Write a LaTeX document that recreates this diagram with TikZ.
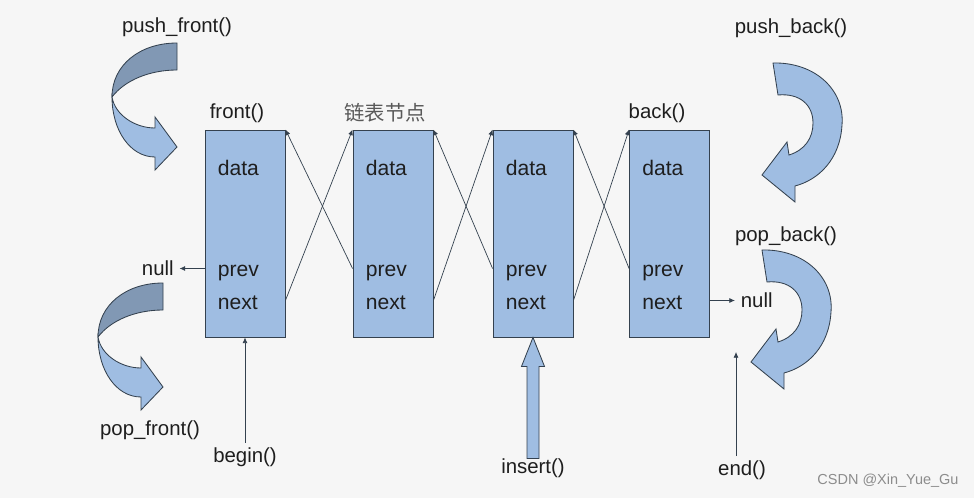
\documentclass[tikz,border=0pt]{standalone}
\usepackage{fontspec}
\setmainfont{Liberation Sans}
\newfontfamily\cjk{Noto Sans CJK SC}
\usepackage{tikz}
\usetikzlibrary{arrows.meta, positioning, calc}
\definecolor{bgc}{HTML}{F6F6F6}
\definecolor{cellblue}{HTML}{9FBDE2}
\definecolor{cellshade}{HTML}{8198B4}
\definecolor{edgec}{HTML}{34414F}
\definecolor{txtc}{HTML}{1E1E1E}

\begin{document}
\begin{tikzpicture}[
    x=0.025cm, y=-0.025cm,
    cell/.style={draw=edgec, fill=cellblue, line width=0.6pt,
                 minimum width=2cm, minimum height=5.175cm, inner sep=0pt},
    field/.style={anchor=base west, inner sep=0pt, text=txtc,
                  font=\fontsize{15}{18}\selectfont},
    lbl/.style={inner sep=3pt, text=txtc, font=\fontsize{14.5}{17}\selectfont},
    arr/.style={-{Latex[length=4pt, width=3.5pt]}, line width=0.5pt, edgec},
    ribbon/.style={draw=edgec, line width=0.6pt, fill=#1},
    ribbon/.default=cellblue,
    frontarrow/.pic={
        \draw[ribbon=cellshade] (0,0) .. controls (-37,0) and (-65,22) .. (-65,54)
            .. controls (-52,37) and (-27,27) .. (0,27) -- cycle;
        \draw[ribbon] (-65,54) .. controls (-65,87) and (-47,114) .. (-22,114)
            -- (-22,127) -- (0,104) -- (-22,74) -- (-22,85)
            .. controls (-42,85) and (-62,72) .. (-65,54) -- cycle;
    },
    backarrow/.pic={
        \draw[ribbon] (0,0) .. controls (42,-1) and (72,27) .. (69,62)
            .. controls (67,97) and (45,117) .. (22,123)
            -- (22,139) -- (-11,112) -- (14,79) -- (16,92)
            .. controls (32,87) and (40,75) .. (40,60)
            .. controls (40,42) and (27,30) .. (5,32) -- cycle;
    },
]
    \fill[bgc] (0,0) rectangle (974,498);
    \useasboundingbox (0,0) rectangle (974,498);

    % list cells
    \foreach \i/\x in {1/245, 2/393, 3/533, 4/669.5} {
        \node[cell] (n\i) at (\x, 233.5) {};
        \node[field] (d\i) at ($(n\i.west)+(13,-57.5)$) {data};
        \node[field] (p\i) at ($(n\i.west)+(13,43.5)$) {prev};
        \node[field] (x\i) at ($(n\i.west)+(13,76.5)$) {next};
        \coordinate (pl\i) at ($(n\i.west)+(0,35)$);
        \coordinate (nr\i) at ($(n\i.east)+(0,67)$);
    }
    \foreach \i/\j in {1/2, 2/3, 3/4} {
        \draw[arr] (nr\i) -- (n\j.north west);
        \draw[arr] (pl\j) -- (n\i.north east);
    }

    % labels above the cells
    \node[lbl] (front) at (237, 113) {front()};
    \node[lbl, text=black!65, font=\fontsize{14.5}{17}\cjk] (cap) at (385, 113) {链表节点};
    \node[lbl] (back) at (657, 113) {back()};

    % null ends
    \node[lbl, anchor=east, inner xsep=4pt] (null1) at ($(pl1)+(-25,0)$) {null};
    \draw[arr] (pl1) -- (null1.east);
    \node[lbl, anchor=west, inner xsep=4pt] (null2) at ($(nr4)+(25,0)$) {null};
    \draw[arr] (nr4) -- (null2.west);

    % iterators
    \node[lbl] (beg) at (245, 457) {begin()};
    \draw[arr] (beg.north) -- (n1.south);
    \node[lbl] (endp) at (742, 470) {end()};
    \coordinate (endtip) at (736, 352);
    \draw[arr] (endtip |- endp.north) -- (endtip);

    % insert
    \node[lbl] (ins) at (533, 468) {insert()};
    \draw[ribbon] (n3.south) -- ++(11.5,29) -- ++(-5.5,0) -- ++(0,92)
        -- ++(-12,0) -- ++(0,-92) -- ++(-5.5,0) -- cycle;

    % front operations
    \node[lbl] (pushf) at (177, 27) {push\_front()};
    \pic at (177, 43) {frontarrow};
    \node[lbl] (popf) at (150, 430) {pop\_front()};
    \pic at (163, 283) {frontarrow};

    % back operations
    \node[lbl] (pushb) at (791, 28) {push\_back()};
    \pic at (773, 63) {backarrow};
    \node[lbl] (popb) at (786, 236) {pop\_back()};
    \pic at (762, 250) {backarrow};

    \node[text=black!45, font=\fontsize{10.3}{12}\selectfont] (mark) at (888, 481) {CSDN @Xin\_Yue\_Gu};
\end{tikzpicture}
\end{document}
